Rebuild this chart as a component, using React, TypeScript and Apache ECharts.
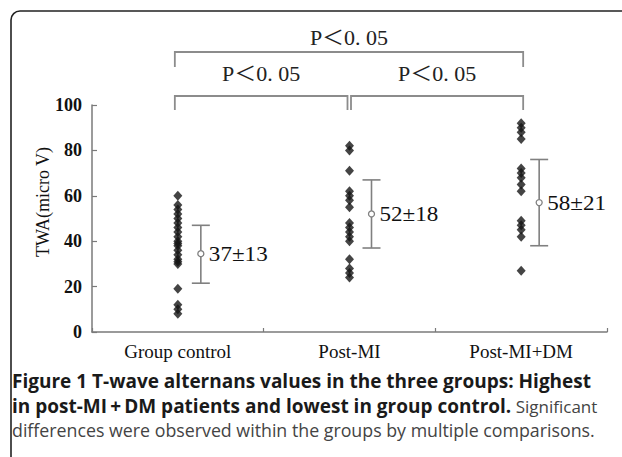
import React, { useEffect, useRef } from "react";
import * as echarts from "echarts";

const categories = ["Group control", "Post-MI", "Post-MI+DM"];
const controlValues = [60, 56, 54, 52, 50, 48, 46, 44, 42, 40, 39, 38, 36, 34, 32, 31, 30, 19, 12, 10, 8];
const postMIValues = [82, 80, 71, 62, 60, 58, 55, 48, 46, 44, 42, 40, 32, 28, 26, 24];
const postMIDMValues = [92, 90, 88, 85, 72, 70, 68, 65, 62, 49, 47, 45, 42, 27];
const groupValues = [controlValues, postMIValues, postMIDMValues];
const means = [34.5, 52, 57];
const lowers = [21.5, 37, 38];
const uppers = [47, 67, 76];
const meanLabels = ["37±13", "52±18", "58±21"];
const comparisonLabel = "P＜0. 05";
const yAxisName = "TWA(micro V)";
const captionBold1 = "Figure 1 T-wave alternans values in the three groups: Highest";
const captionBold2 = "in post-MI\u2009+\u2009DM patients and lowest in group control.";
const captionNormal2 = " Significant";
const captionNormal3 = "differences were observed within the groups by multiple comparisons.";

const errOffsets = [23, 22, 18];
const SERIF = '"Liberation Serif", "Times New Roman", serif';
const SANS = '"Open Sans", "Noto Sans", sans-serif';

export default function App() {
  const ref = useRef<HTMLDivElement>(null);
  useEffect(() => {
    document.body.style.margin = "0";
    const chart = echarts.init(ref.current!, null, { renderer: "svg" });
    const scatterData: number[][] = [];
    groupValues.forEach((vals, i) => vals.forEach((v) => scatterData.push([i, v])));
    const errData = means.map((m, i) => [i, m, lowers[i], uppers[i]]);
    chart.setOption({
      animation: false,
      backgroundColor: "#fff",
      grid: { left: 92, right: 15, top: 105, bottom: 125 },
      xAxis: {
        type: "category",
        data: categories,
        boundaryGap: true,
        axisLine: { lineStyle: { color: "#7a7a7a", width: 1.5 } },
        axisTick: { show: true, inside: true, length: 4, lineStyle: { color: "#7a7a7a", width: 1.2 } },
        axisLabel: { color: "#111", fontFamily: SERIF, fontSize: 19, margin: 10 },
        splitLine: { show: false },
      },
      yAxis: {
        type: "value",
        min: 0,
        max: 100,
        interval: 20,
        axisLine: { show: true, lineStyle: { color: "#7a7a7a", width: 1.5 } },
        axisTick: { show: true, inside: true, length: 5, lineStyle: { color: "#7a7a7a", width: 1.2 } },
        axisLabel: { color: "#111", fontFamily: SERIF, fontSize: 18, fontWeight: "bold", margin: 10 },
        splitLine: { show: false },
      },
      series: [
        {
          type: "scatter",
          data: scatterData,
          symbol: "diamond",
          symbolSize: [9, 10],
          itemStyle: { color: "#151515" },
        },
        {
          type: "custom",
          data: errData,
          renderItem: (params: any, api: any) => {
            const i = api.value(0);
            const c = api.coord([i, api.value(1)]);
            const lo = api.coord([i, api.value(2)]);
            const hi = api.coord([i, api.value(3)]);
            const x = c[0] + errOffsets[params.dataIndex];
            const ls = { stroke: "#808080", lineWidth: 1.6 };
            return {
              type: "group",
              children: [
                { type: "line", shape: { x1: x, y1: hi[1], x2: x, y2: lo[1] }, style: ls },
                { type: "line", shape: { x1: x - 9, y1: hi[1], x2: x + 9, y2: hi[1] }, style: ls },
                { type: "line", shape: { x1: x - 9, y1: lo[1], x2: x + 9, y2: lo[1] }, style: ls },
                { type: "circle", shape: { cx: x, cy: c[1], r: 3 }, style: { fill: "#fff", stroke: "#808080", lineWidth: 1.3 } },
                {
                  type: "text",
                  x: x + 8,
                  y: c[1],
                  scaleX: 1.1,
                  style: {
                    text: meanLabels[params.dataIndex],
                    fill: "#111",
                    fontSize: 21,
                    fontFamily: SERIF,
                    align: "left",
                    verticalAlign: "middle",
                  },
                },
              ],
            };
          },
        },
      ],
    });

    const cx = [0, 1, 2].map((i) => chart.convertToPixel({ gridIndex: 0 }, [i, 0])[0]);
    const bStyle = { stroke: "#8c8c8c", lineWidth: 1.8, fill: "none" };
    const bracket = (x1: number, x2: number, y: number, yLeg: number) => ({
      type: "polyline",
      shape: { points: [[x1, yLeg], [x1, y], [x2, y], [x2, yLeg]] },
      style: bStyle,
    });
    const pText = (x: number, y: number) => ({
      type: "text",
      x,
      y,
      scaleX: 1.1,
      style: {
        text: comparisonLabel,
        fill: "#222",
        fontSize: 20,
        fontFamily: '"Liberation Serif", "Noto Sans CJK SC", serif',
        align: "center",
        verticalAlign: "middle",
      },
    });
    const topL = cx[0] - 3, topR = cx[2] + 2;
    const midL = cx[1] - 2, midR = cx[1] + 1.5;
    chart.setOption({
      graphic: [
        {
          type: "rect",
          shape: { x: 11, y: 11, width: 700, height: 500, r: 9 },
          style: { fill: "none", stroke: "#222", lineWidth: 1.6 },
          silent: true,
        },
        bracket(topL, topR, 52, 67),
        bracket(topL, midL, 96, 110),
        bracket(midR, topR, 96, 110),
        pText((topL + topR) / 2, 38),
        pText((topL + midL) / 2, 74),
        pText((midR + topR) / 2, 74),
        {
          type: "text",
          x: 43,
          y: 202,
          rotation: Math.PI / 2,
          style: {
            text: yAxisName,
            fill: "#111",
            fontSize: 18,
            fontFamily: SERIF,
            align: "center",
            verticalAlign: "middle",
          },
        },
        {
          type: "text",
          x: 12,
          y: 381,
          style: {
            text: captionBold1,
            fill: "#1a1a1a",
            fontSize: 19,
            fontWeight: "bold",
            fontFamily: SANS,
            verticalAlign: "middle",
          },
        },
        {
          type: "text",
          x: 12,
          y: 406,
          style: {
            text: `{b|${captionBold2}}{n|${captionNormal2}}`,
            verticalAlign: "middle",
            rich: {
              b: { fill: "#1a1a1a", fontSize: 19, fontWeight: "bold", fontFamily: SANS },
              n: { fill: "#444", fontSize: 17, fontWeight: "normal", fontFamily: SANS },
            },
          },
        },
        {
          type: "text",
          x: 12,
          y: 430,
          style: {
            text: captionNormal3,
            fill: "#444",
            fontSize: 17.8,
            fontFamily: SANS,
            verticalAlign: "middle",
          },
        },
      ],
    });
    return () => chart.dispose();
  }, []);
  return <div ref={ref} style={{ width: 622, height: 457 }} />;
}
